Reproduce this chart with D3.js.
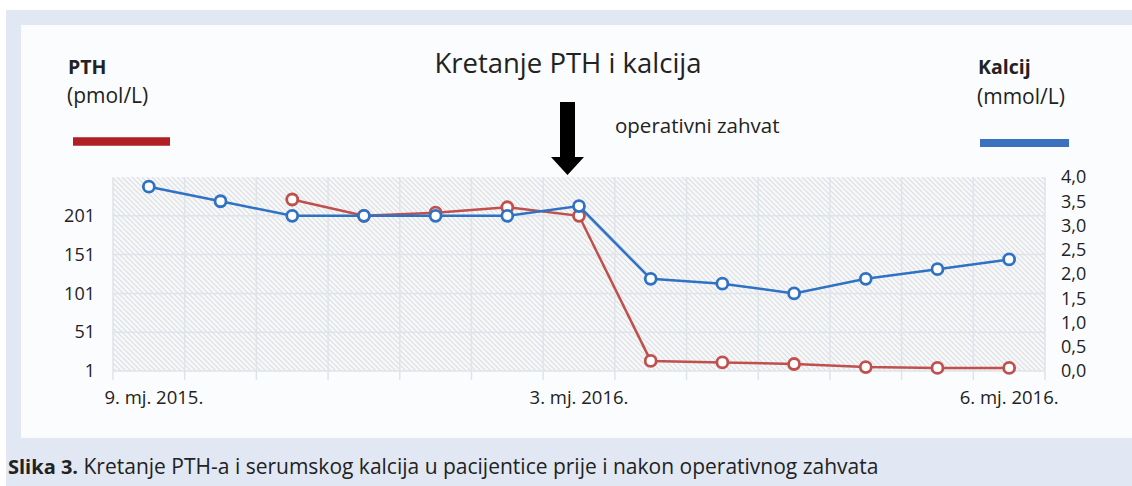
<!DOCTYPE html>
<html><head><meta charset="utf-8">
<script src="https://cdn.jsdelivr.net/npm/d3@7"></script>
<style>
html,body{margin:0;padding:0;background:#ffffff;}
svg{display:block;font-family:"Open Sans",sans-serif;}
</style></head>
<body>
<script>
// ---- data ----
const categories = [1,2,3,4,5,6,7,8,9,10,11,12,13];
const xTickLabels = ["9. mj. 2015.","","","","","","3. mj. 2016.","","","","","","6. mj. 2016."];
const pthValues = [null,null,222,201,205,212,201,14,12,10,6,5,5];
const calciumValues = [3.8,3.5,3.2,3.2,3.2,3.2,3.4,1.9,1.8,1.6,1.9,2.1,2.3];
const pthTicks = [1,51,101,151,201];
const calciumTicks = [0,0.5,1,1.5,2,2.5,3,3.5,4];

const W = 1132, H = 486;
const FONT = "'Open Sans',sans-serif";
const svg = d3.select("body").append("svg").attr("width", W).attr("height", H);

// backgrounds
svg.append("rect").attr("x",6).attr("y",10).attr("width",W-6).attr("height",H-10).attr("fill","#e1e8f4");
svg.append("rect").attr("x",21).attr("y",25).attr("width",W-21).attr("height",413).attr("fill","#fbfcfe");

const defs = svg.append("defs");
const pat = defs.append("pattern").attr("id","hatch").attr("patternUnits","userSpaceOnUse")
  .attr("width",5).attr("height",5);
pat.append("rect").attr("width",5).attr("height",5).attr("fill","#f7f8f9");
pat.append("path").attr("d","M-1,-1L6,6M-1,4L1,6M4,-1L6,1").attr("stroke","#dcdee1").attr("stroke-width",1.1);

const L = 113, R = 1045, T = 177, B = 371;
const x = d3.scaleBand().domain(categories).range([L,R]);
const cx = d => x(d) + x.bandwidth()/2;
const yL = d3.scaleLinear().domain([1,251]).range([B,T]);
const yR = d3.scaleLinear().domain([0,4]).range([B,T]);

// plot background
svg.append("rect").attr("x",L).attr("y",T).attr("width",R-L).attr("height",B-T).attr("fill","url(#hatch)");

// gridlines
const grid = svg.append("g").attr("stroke","#dfe4ea").attr("stroke-width",1.5);
pthTicks.forEach(t => grid.append("line").attr("x1",L).attr("x2",R).attr("y1",yL(t)).attr("y2",yL(t)));
const vEdges = categories.map(c => x(c)).concat([R]);
vEdges.forEach(v => grid.append("line").attr("x1",v).attr("x2",v).attr("y1",T).attr("y2",B+9));

// axes
const fmtC = v => d3.format(".1f")(v).replace(".",",");
const axL = svg.append("g").attr("transform",`translate(${L-18},0)`)
  .call(d3.axisLeft(yL).tickValues(pthTicks).tickSize(0).tickPadding(0));
axL.select(".domain").remove();
axL.selectAll("text").attr("font-size",18).attr("fill","#222").attr("font-family",FONT);

const axR = svg.append("g").attr("transform",`translate(${R+16},0)`)
  .call(d3.axisRight(yR).tickValues(calciumTicks).tickFormat(fmtC).tickSize(0).tickPadding(0));
axR.select(".domain").remove();
axR.selectAll("text").attr("font-size",18).attr("fill","#222").attr("font-family",FONT);

const axB = svg.append("g").attr("transform",`translate(0,${B+27})`)
  .call(d3.axisBottom(x).tickFormat((d,i) => xTickLabels[i]).tickSize(0).tickPadding(0));
axB.select(".domain").remove();
axB.selectAll("text").attr("font-size",18.5).attr("fill","#222").attr("font-family",FONT).attr("dy","0.35em")
  .attr("dx",(d,i) => i === 0 ? 5 : 0);

// lines
const redC = "#c0504d", blueC = "#2f72c4";
const pthData = categories.map((c,i) => ({c, v: pthValues[i]})).filter(d => d.v !== null);
const caData = categories.map((c,i) => ({c, v: calciumValues[i]}));

svg.append("path").datum(pthData)
  .attr("d", d3.line().x(d => cx(d.c)).y(d => yL(d.v)))
  .attr("fill","none").attr("stroke",redC).attr("stroke-width",2.5);
svg.selectAll("circle.pth").data(pthData).join("circle").attr("class","pth")
  .attr("cx",d => cx(d.c)).attr("cy",d => yL(d.v)).attr("r",5.5)
  .attr("fill","#fff").attr("stroke",redC).attr("stroke-width",2.8);

svg.append("path").datum(caData)
  .attr("d", d3.line().x(d => cx(d.c)).y(d => yR(d.v)))
  .attr("fill","none").attr("stroke",blueC).attr("stroke-width",2.5);
svg.selectAll("circle.ca").data(caData).join("circle").attr("class","ca")
  .attr("cx",d => cx(d.c)).attr("cy",d => yR(d.v)).attr("r",5.5)
  .attr("fill","#fff").attr("stroke",blueC).attr("stroke-width",2.8);

// title & annotations
svg.append("text").attr("x",568).attr("y",73).attr("text-anchor","middle")
  .attr("font-size",27.5).attr("fill","#222").text("Kretanje PTH i kalcija");
svg.append("text").attr("x",615).attr("y",133).attr("font-size",20.5).attr("fill","#222").text("operativni zahvat");

svg.append("path").attr("d","M560,102L575,102L575,157L584,157L567.5,175L551,157L560,157Z").attr("fill","#000");

// legends
svg.append("text").attr("x",68).attr("y",74).attr("font-size",19.5).attr("font-weight","bold").attr("fill","#222").text("PTH");
svg.append("text").attr("x",67).attr("y",103).attr("font-size",21).attr("fill","#222").text("(pmol/L)");
svg.append("line").attr("x1",73).attr("x2",170).attr("y1",141.5).attr("y2",141.5).attr("stroke","#b01f24").attr("stroke-width",8.5);

svg.append("text").attr("x",978).attr("y",74).attr("font-size",19.5).attr("font-weight","bold").attr("fill","#222").text("Kalcij");
svg.append("text").attr("x",977).attr("y",104).attr("font-size",21).attr("fill","#222").text("(mmol/L)");
svg.append("line").attr("x1",980).attr("x2",1069).attr("y1",143).attr("y2",143).attr("stroke","#3b72c0").attr("stroke-width",8);

// caption
const cap = svg.append("text").attr("x",8).attr("y",474).attr("fill","#222");
cap.append("tspan").attr("font-weight","bold").attr("font-size",20).text("Slika 3.");
cap.append("tspan").attr("font-size",21).text(" Kretanje PTH-a i serumskog kalcija u pacijentice prije i nakon operativnog zahvata");
</script>
</body></html>
